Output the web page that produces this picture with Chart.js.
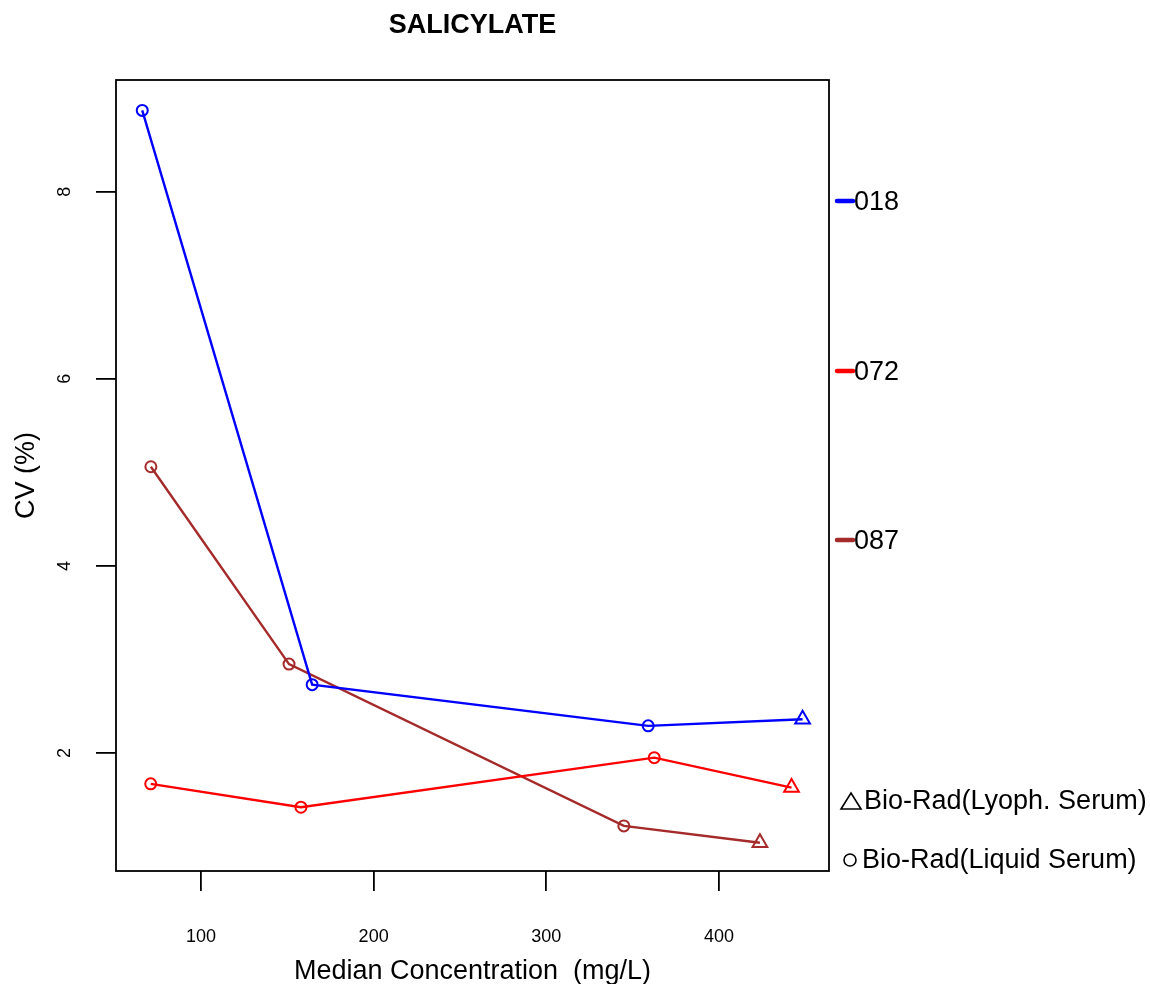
<!DOCTYPE html>
<html>
<head>
<meta charset="utf-8">
<title>SALICYLATE</title>
<script src="https://cdn.jsdelivr.net/npm/chart.js@4.4.1/dist/chart.umd.min.js"></script>
<style>
  html, body { margin: 0; padding: 0; background: #fff; }
  canvas { display: block; }
</style>
</head>
<body>
<canvas id="cv" width="1150" height="984"></canvas>
<script>
// median concentration (mg/L) and CV (%) per method, last point is lyophilised serum
const methods = ['018', '072', '087'];
const conc018 = [66.0, 164.4, 359.0, 448.4];
const cv018 = [8.87, 2.73, 2.29, 2.36];
const conc072 = [70.9, 157.9, 362.5, 442.0];
const cv072 = [1.67, 1.42, 1.95, 1.63];
const conc087 = [71.0, 151.0, 344.9, 423.7];
const cv087 = [5.06, 2.95, 1.22, 1.04];
const material = ['liquid', 'liquid', 'liquid', 'lyoph'];
const materialNames = ['Bio-Rad(Lyoph. Serum)', 'Bio-Rad(Liquid Serum)'];
const xTicks = [100, 200, 300, 400];
const yTicks = [2, 4, 6, 8];

const FONT = '"Liberation Sans", Arial, sans-serif';
const lineColors = ['#0000FF', '#FF0000', '#A52A2A'];

function series(xs, ys) {
  return xs.map((x, i) => ({x: x, y: ys[i]}));
}

function makeSet(i, xs, ys) {
  return {
    label: methods[i],
    data: series(xs, ys),
    showLine: true,
    borderColor: lineColors[i],
    borderWidth: 2.4,
    backgroundColor: 'rgba(0,0,0,0)',
    pointBorderColor: lineColors[i],
    pointBackgroundColor: 'rgba(0,0,0,0)',
    pointBorderWidth: 2,
    pointStyle: material.map(m => m === 'lyoph' ? 'triangle' : 'circle'),
    pointRadius: material.map(m => m === 'lyoph' ? 8.5 : 5.5),
    tension: 0
  };
}

// frame, titles, rotated y labels and the side legends
const decor = {
  id: 'decor',
  afterDraw(chart) {
    const ctx = chart.ctx;
    const a = chart.chartArea;
    const ys = chart.scales.y;
    ctx.save();
    ctx.strokeStyle = '#000';
    ctx.lineWidth = 1.8;
    ctx.strokeRect(a.left, a.top, a.right - a.left, a.bottom - a.top);

    ctx.fillStyle = '#000';
    ctx.font = '18px ' + FONT;
    ctx.textAlign = 'center';
    ctx.textBaseline = 'middle';
    yTicks.forEach(v => {
      ctx.save();
      ctx.translate(65, ys.getPixelForValue(v));
      ctx.rotate(-Math.PI / 2);
      ctx.fillText(String(v), 0, 0);
      ctx.restore();
    });

    ctx.font = 'bold 27px ' + FONT;
    ctx.textBaseline = 'alphabetic';
    ctx.fillText('SALICYLATE', (a.left + a.right) / 2, 33);

    ctx.font = '27px ' + FONT;
    ctx.fillText('Median Concentration  (mg/L)', (a.left + a.right) / 2, 979);

    ctx.save();
    ctx.translate(34, (a.top + a.bottom) / 2);
    ctx.rotate(-Math.PI / 2);
    ctx.fillText('CV (%)', 0, 0);
    ctx.restore();

    // method legend
    const legendY = [201, 371, 540];
    ctx.textAlign = 'left';
    methods.forEach((m, i) => {
      ctx.strokeStyle = lineColors[i];
      ctx.lineWidth = 4.5;
      ctx.lineCap = 'round';
      ctx.beginPath();
      ctx.moveTo(837, legendY[i]);
      ctx.lineTo(853, legendY[i]);
      ctx.stroke();
      ctx.fillStyle = '#000';
      ctx.fillText(m, 854, legendY[i] + 9);
    });

    // sample material legend
    ctx.strokeStyle = '#000';
    ctx.lineWidth = 1.6;
    ctx.lineCap = 'butt';
    ctx.beginPath();
    ctx.moveTo(851, 793);
    ctx.lineTo(861, 809);
    ctx.lineTo(841, 809);
    ctx.closePath();
    ctx.stroke();
    ctx.fillText(materialNames[0], 864, 809);

    ctx.beginPath();
    ctx.arc(850, 860, 6, 0, Math.PI * 2);
    ctx.stroke();
    ctx.fillText(materialNames[1], 862, 868);
    ctx.restore();
  }
};

new Chart(document.getElementById('cv'), {
  type: 'scatter',
  data: {
    datasets: [
      makeSet(0, conc018, cv018),
      makeSet(1, conc072, cv072),
      makeSet(2, conc087, cv087)
    ]
  },
  options: {
    responsive: false,
    animation: false,
    devicePixelRatio: 1,
    layout: {padding: {left: 0, top: 80, right: 321, bottom: 0}},
    plugins: {
      legend: {display: false},
      title: {display: false},
      tooltip: {enabled: false}
    },
    scales: {
      x: {
        type: 'linear',
        min: 50.8,
        max: 463.7,
        afterBuildTicks: s => { s.ticks = xTicks.map(v => ({value: v})); },
        afterFit: s => { s.height = 113; },
        border: {display: false},
        grid: {drawOnChartArea: false, drawTicks: true, tickLength: 20, color: '#000', lineWidth: 1.8},
        ticks: {color: '#000', font: {family: FONT, size: 18}, padding: 35, maxRotation: 0}
      },
      y: {
        type: 'linear',
        min: 0.738,
        max: 9.195,
        afterBuildTicks: s => { s.ticks = yTicks.map(v => ({value: v})); },
        afterFit: s => { s.width = 116; },
        border: {display: false},
        grid: {drawOnChartArea: false, drawTicks: true, tickLength: 20, color: '#000', lineWidth: 1.8},
        ticks: {display: false}
      }
    }
  },
  plugins: [decor]
});
</script>
</body>
</html>
